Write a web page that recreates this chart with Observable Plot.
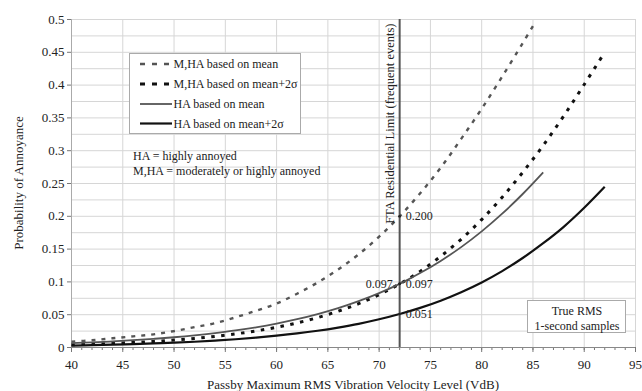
<!DOCTYPE html>
<html><head><meta charset="utf-8">
<script src="https://cdn.jsdelivr.net/npm/d3@7"></script>
<script src="https://cdn.jsdelivr.net/npm/@observablehq/plot@0.6"></script>
<style>body{margin:0;background:#fff} #chart svg{display:block}</style>
</head><body><div id="chart"></div>
<script>
// ---- data ----
const xMHAMean = [40,42,44,46,48,50,52,54,56,58,60,62,64,66,68,70,72,74,76,78,80,82,84,85];
const yMHAMean = [0.009,0.011,0.014,0.017,0.020,0.025,0.031,0.037,0.046,0.056,0.067,0.082,0.099,0.119,0.142,0.169,0.200,0.235,0.274,0.318,0.364,0.413,0.464,0.490];
const xMHA2s = [40,42,44,46,48,50,52,54,56,58,60,62,64,66,68,70,72,74,76,78,80,82,84,86,88,90,92];
const yMHA2s = [0.0042,0.0051,0.0063,0.0076,0.0093,0.0114,0.0139,0.0170,0.0208,0.0253,0.0308,0.0375,0.0456,0.0553,0.0668,0.0806,0.097,0.116,0.139,0.165,0.195,0.229,0.267,0.308,0.353,0.401,0.450];
const xHAMean = [40,42,44,46,48,50,52,54,56,58,60,62,64,66,68,70,72,74,76,78,80,82,84,86];
const yHAMean = [0.0066,0.0078,0.0093,0.0111,0.0132,0.0156,0.0185,0.0220,0.0260,0.0308,0.0365,0.0431,0.0509,0.0600,0.0706,0.0829,0.097,0.1135,0.132,0.153,0.177,0.204,0.234,0.267];
const xHA2s = [40,42,44,46,48,50,52,54,56,58,60,62,64,66,68,70,72,74,76,78,80,82,84,86,88,90,92];
const yHA2s = [0.0030,0.0036,0.0044,0.0052,0.0062,0.0074,0.0088,0.0106,0.0126,0.0151,0.0180,0.0214,0.0255,0.0304,0.0361,0.0430,0.051,0.0604,0.0714,0.0843,0.0992,0.1165,0.1364,0.159,0.184,0.213,0.245];

const seriesNames = ["M,HA based on mean","M,HA based on mean+2σ","HA based on mean","HA based on mean+2σ"];
const limitX = 72;
const limitLabel = "FTA Residential Limit (frequent events)";
const pointLabelX = [72,72,72,72];
const pointLabelY = [0.200,0.097,0.097,0.051];
const pointLabelText = ["0.200","0.097","0.097","0.051"];
const pointLabelSide = ["right","left","right","right"];
const xTicks = [40,45,50,55,60,65,70,75,80,85,90,95];
const xMinorTicks = d3.range(40,96,1);
const yTicks = [0,0.05,0.1,0.15,0.2,0.25,0.3,0.35,0.4,0.45,0.5];
const yGrid = d3.range(0,0.5001,0.025);
const notes = ["HA = highly annoyed","M,HA = moderately or highly annoyed"];
const boxNote = ["True RMS","1-second samples"];
const xTitle = "Passby Maximum RMS Vibration Velocity Level (VdB)";
const yTitle = "Probability of Annoyance";

// ---- styles ----
const styles = [
  {stroke:"#555", strokeWidth:2.4, dash:"4,6"},
  {stroke:"#111", strokeWidth:3, dash:"3.5,6.5"},
  {stroke:"#555", strokeWidth:1.8, dash:null},
  {stroke:"#111", strokeWidth:2.2, dash:null}
];
const seriesData = [[xMHAMean,yMHAMean],[xMHA2s,yMHA2s],[xHAMean,yHAMean],[xHA2s,yHA2s]]
  .map(([xs,ys],k)=>xs.map((x,i)=>({series:seriesNames[k],x,y:ys[i]})));
const labels = pointLabelX.map((x,i)=>({x,y:pointLabelY[i],text:pointLabelText[i],side:pointLabelSide[i]}));

const font = "'Liberation Serif','Times New Roman',serif";
const fmt = d => String(+d.toFixed(2));

const plot = Plot.plot({
  width:642, height:391,
  marginLeft:71, marginRight:7, marginTop:19, marginBottom:44,
  style:{fontFamily:font, fontSize:"13px", color:"#222", background:"#fff", overflow:"visible"},
  x:{domain:[40,95]},
  y:{domain:[0,0.5]},
  marks:[
    Plot.ruleY(yGrid,{stroke:"#d6d6d6", strokeWidth:1}),
    Plot.ruleX(xTicks,{stroke:"#d6d6d6", strokeWidth:1}),
    Plot.axisX({ticks:xMinorTicks, tickSize:3, tickFormat:()=> "", stroke:"#777", label:null}),
    Plot.axisX({ticks:xTicks, tickSize:5, tickPadding:7, tickFormat:d=>String(d), stroke:"#777", label:null}),
    Plot.axisY({ticks:yTicks, tickSize:4, tickPadding:3, tickFormat:fmt, stroke:"#777", label:null}),
    Plot.ruleY([0],{stroke:"#888", strokeWidth:1}),
    Plot.ruleX([40],{stroke:"#aaa", strokeWidth:1}),
    ...seriesData.map((d,k)=>Plot.line(d,{x:"x", y:"y", stroke:styles[k].stroke, strokeWidth:styles[k].strokeWidth,
        strokeDasharray:styles[k].dash, strokeLinecap:"butt", curve:"catmull-rom"})),
    Plot.ruleX([limitX],{stroke:"#555", strokeWidth:2}),
    Plot.text([limitLabel],{x:()=>limitX, frameAnchor:"top", text:d=>d, rotate:-90, textAnchor:"end", dx:-15, dy:4, fontSize:12.5, fill:"#222"}),
    Plot.dot(labels,{x:"x", y:"y", r:1.3, fill:"#222", stroke:null}),
    Plot.text(labels.filter(d=>d.side==="right"),{x:"x", y:"y", text:"text", textAnchor:"start", dx:6, fontSize:12, fill:"#222"}),
    Plot.text(labels.filter(d=>d.side==="left"),{x:"x", y:"y", text:"text", textAnchor:"end", dx:-7, fontSize:12, fill:"#222"})
  ]
});
document.getElementById("chart").appendChild(plot);

// ---- annotations: legend, notes, titles ----
const svg = d3.select(plot);
const g = svg.append("g").attr("font-family",font).attr("fill","#222").attr("text-anchor","start");
// legend
g.append("rect").attr("x",129.5).attr("y",53.5).attr("width",171).attr("height",80)
  .attr("fill","#fff").attr("stroke","#aaa");
const legY = [64,84,104,123.5];
seriesNames.forEach((n,k)=>{
  g.append("line").attr("x1",140).attr("x2",k<2?170:172).attr("y1",legY[k]).attr("y2",legY[k])
    .attr("stroke",styles[k].stroke).attr("stroke-width",styles[k].strokeWidth)
    .attr("stroke-dasharray",k<2?"5,7":null);
  g.append("text").attr("x",173.5).attr("y",legY[k]).attr("dy","0.35em").attr("font-size",12).text(n);
});
// notes
notes.forEach((t,i)=>g.append("text").attr("x",133).attr("y",156+i*14.5).attr("dy","0.35em").attr("font-size",12).text(t));
// bottom-right box
g.append("rect").attr("x",527.5).attr("y",300.5).attr("width",98).attr("height",32).attr("fill","#fff").attr("stroke","#aaa");
boxNote.forEach((t,i)=>g.append("text").attr("x",577).attr("y",311+i*15).attr("dy","0.35em").attr("text-anchor","middle").attr("font-size",12).text(t));
// axis titles
g.append("text").attr("x",(71+635)/2).attr("y",384).attr("dy","0.35em").attr("text-anchor","middle").attr("font-size",13).text(xTitle);
g.append("text").attr("transform","translate(18,183) rotate(-90)").attr("dy","0.35em").attr("text-anchor","middle").attr("font-size",13).text(yTitle);
</script>
</body></html>
